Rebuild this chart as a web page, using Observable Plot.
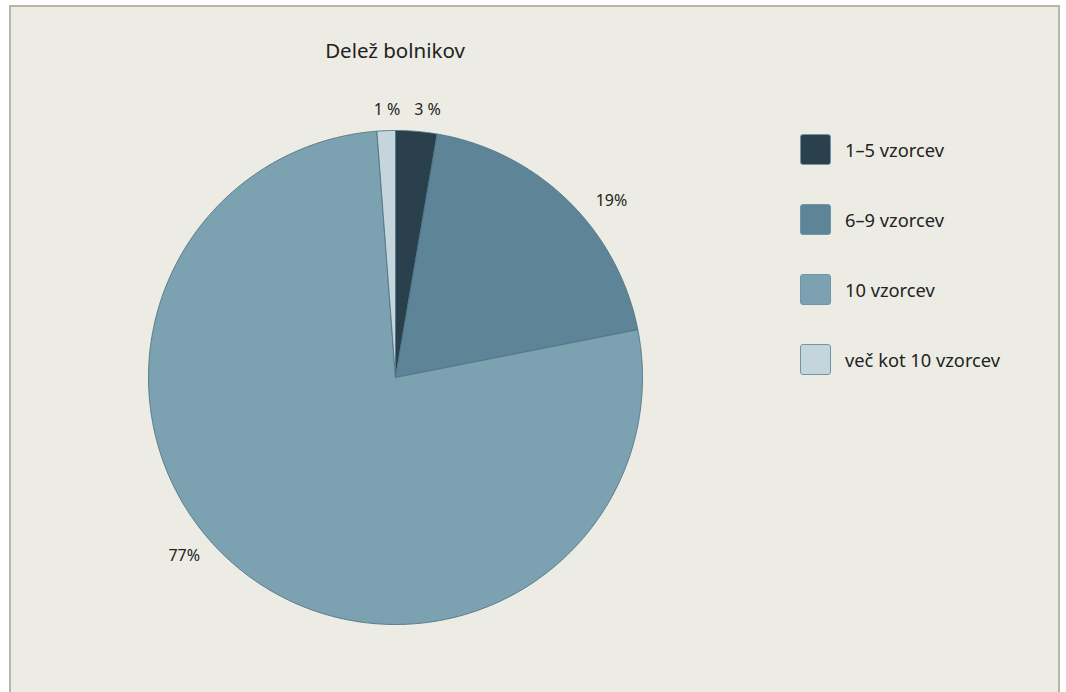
<!DOCTYPE html>
<html><head><meta charset="utf-8">
<script src="https://cdn.jsdelivr.net/npm/d3@7"></script>
<script src="https://cdn.jsdelivr.net/npm/@observablehq/plot@0.6"></script>
<style>
html,body{margin:0;padding:0;background:#fff;overflow:hidden;}
#frame{position:absolute;left:9px;top:5px;width:1051px;height:700px;background:#ecece4;border:2px solid #b8b6a9;box-sizing:border-box;}
#title{position:absolute;left:0;width:768px;text-align:center;top:29px;font:20.5px "Noto Sans",sans-serif;color:#222;line-height:28px;}
#chart{position:absolute;left:99px;top:85px;}
#legend{position:absolute;left:789px;top:127px;font:18.3px "Noto Sans",sans-serif;color:#222;}
.item{position:absolute;left:0;height:31px;display:flex;align-items:center;white-space:nowrap;}
.sw{width:29px;height:29px;border-radius:3px;border:1px solid #6f95a6;margin-right:14px;box-sizing:content-box;}
</style></head>
<body>
<div id="frame">
<div id="title">Delež bolnikov</div>
<div id="chart"></div>
<div id="legend"></div>
</div>
<script>
const categories = ["1–5 vzorcev", "6–9 vzorcev", "10 vzorcev", "več kot 10 vzorcev"];
const shares = [2.7, 19.2, 76.9, 1.2];
const labels = ["3 %", "19%", "77%", "1 %"];
const labelAngles = [6.8, 50.7, 229.8, -1.8];
const labelRadius = [1.093, 1.13, 1.12, 1.085];
const colors = ["#2b404d", "#5e8497", "#7ca1b1", "#c4d6dc"];

const total = d3.sum(shares);
const pts = [];
let acc = 0;
categories.forEach((c, i) => {
  const a0 = acc / total * 2 * Math.PI;
  acc += shares[i];
  const a1 = acc / total * 2 * Math.PI;
  pts.push({cat: c, x: 0, y: 0});
  const n = Math.max(4, Math.ceil((a1 - a0) / (Math.PI / 360)));
  for (let k = 0; k <= n; k++) {
    const a = a0 + (a1 - a0) * k / n;
    pts.push({cat: c, x: Math.sin(a), y: Math.cos(a)});
  }
  pts.push({cat: c, x: 0, y: 0});
});
const lab = categories.map((c, i) => {
  const a = labelAngles[i] * Math.PI / 180;
  return {cat: c, text: labels[i], x: labelRadius[i] * Math.sin(a), y: labelRadius[i] * Math.cos(a)};
});

const size = 570;
const r = 247;
const h = (size / 2) / r;
const plot = Plot.plot({
  width: size, height: size, margin: 0,
  style: {background: "transparent", overflow: "visible"},
  x: {domain: [-h, h], axis: null},
  y: {domain: [-h, h], axis: null},
  color: {domain: categories, range: colors},
  marks: [
    Plot.line(pts, {x: "x", y: "y", z: "cat", fill: "cat", stroke: "#4f7486", strokeWidth: 0.9, strokeLinejoin: "round"}),
    Plot.text(lab, {x: "x", y: "y", text: "text", fontSize: 16, fill: "#222", fontFamily: "Noto Sans", textAnchor: "middle", lineAnchor: "middle"})
  ]
});
document.getElementById("chart").appendChild(plot);

const leg = document.getElementById("legend");
const legendY = [0, 70, 140, 210];
categories.forEach((c, i) => {
  const it = document.createElement("div");
  it.className = "item";
  it.style.top = (legendY[i]) + "px";
  const sw = document.createElement("div");
  sw.className = "sw";
  sw.style.background = colors[i];
  it.appendChild(sw);
  const t = document.createElement("span");
  t.textContent = c;
  it.appendChild(t);
  leg.appendChild(it);
});
</script>
</body></html>
